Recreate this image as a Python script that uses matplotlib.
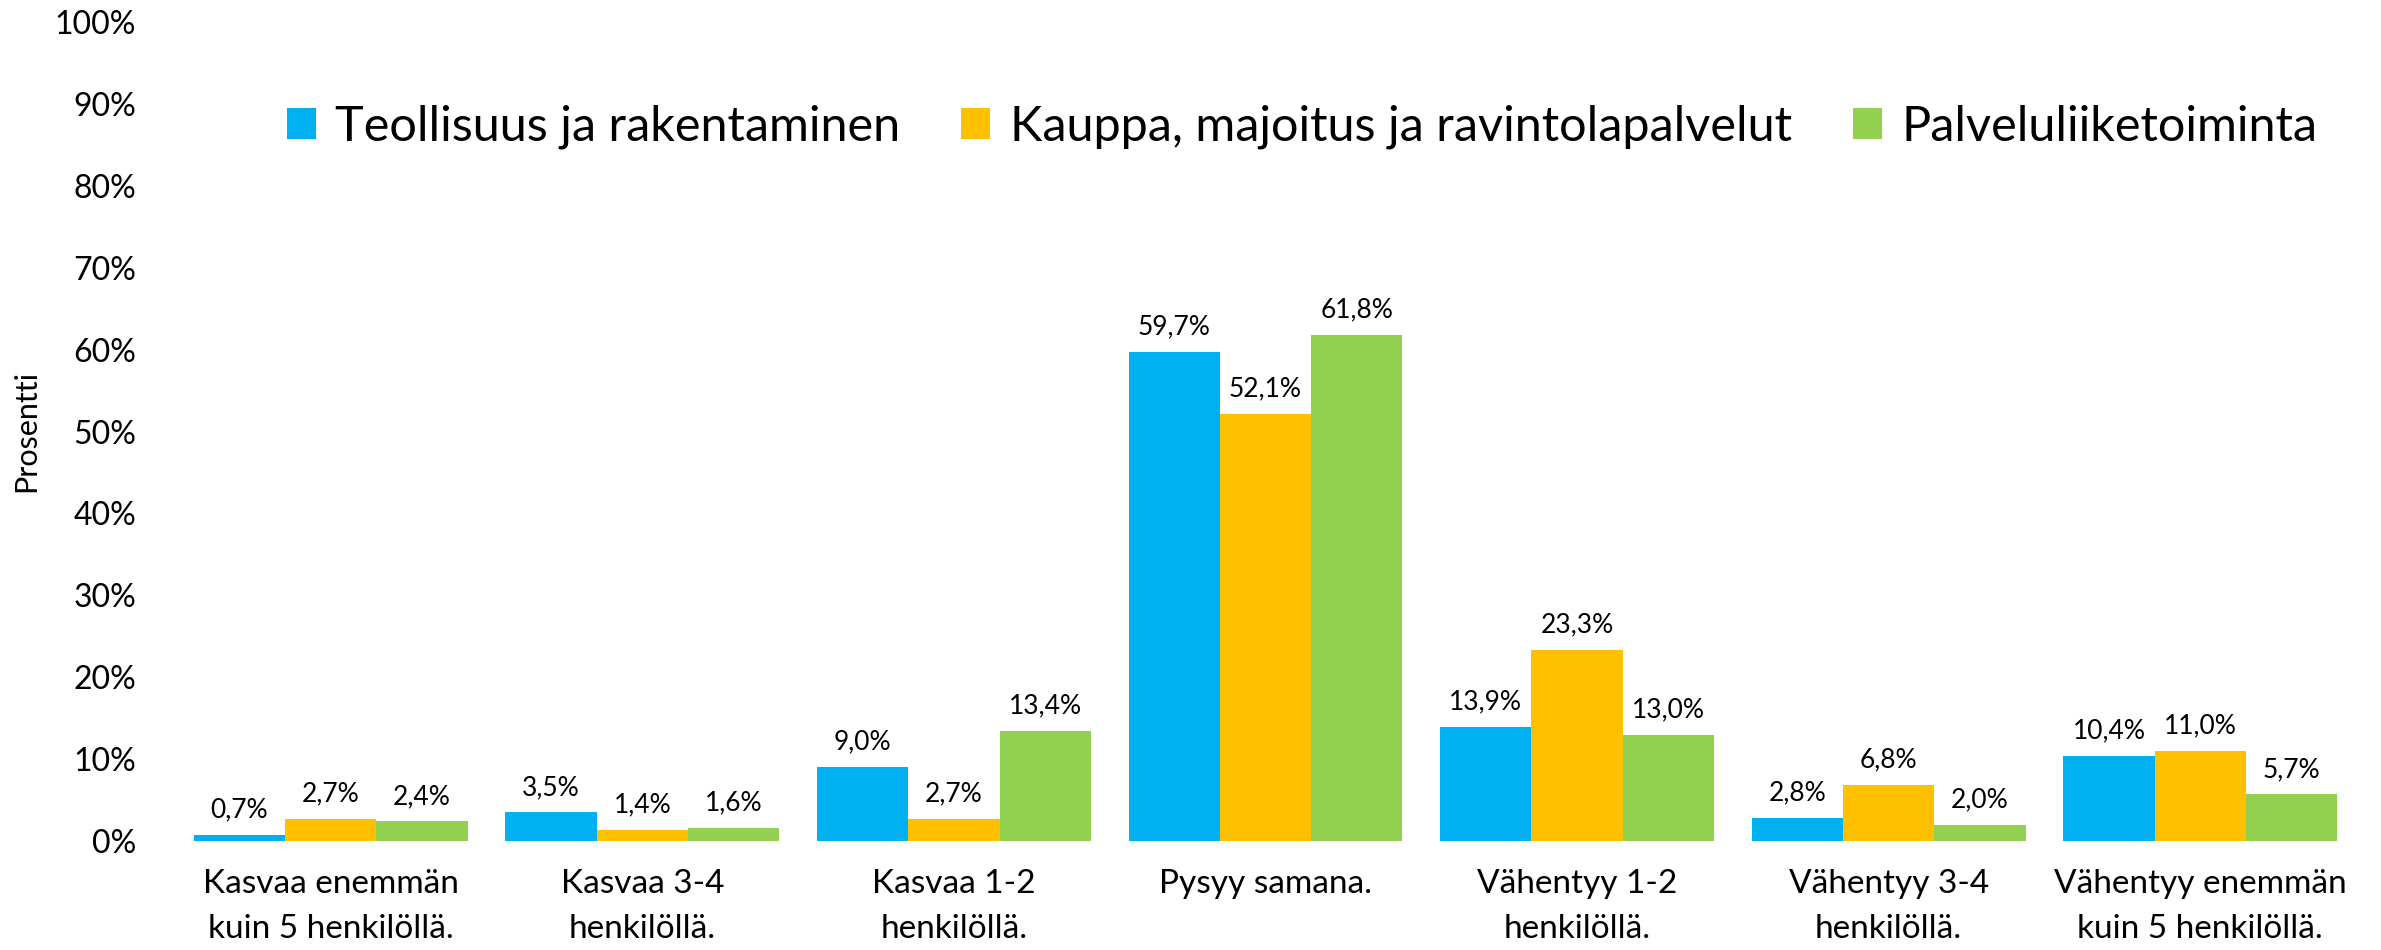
import matplotlib
matplotlib.use("Agg")
import matplotlib.pyplot as plt
import numpy as np
from matplotlib.patches import Patch

plt.rcParams['font.family'] = ['Lato', 'DejaVu Sans']

categories = ["Kasvaa enemmän\nkuin 5 henkilöllä.", "Kasvaa 3-4\nhenkilöllä.", "Kasvaa 1-2\nhenkilöllä.",
              "Pysyy samana.", "Vähentyy 1-2\nhenkilöllä.", "Vähentyy 3-4\nhenkilöllä.",
              "Vähentyy enemmän\nkuin 5 henkilöllä."]
series_names = ["Teollisuus ja rakentaminen", "Kauppa, majoitus ja ravintolapalvelut", "Palveluliiketoiminta"]
teollisuus = [0.7, 3.5, 9.0, 59.7, 13.9, 2.8, 10.4]
kauppa = [2.7, 1.4, 2.7, 52.1, 23.3, 6.8, 11.0]
palvelu = [2.4, 1.6, 13.4, 61.8, 13.0, 2.0, 5.7]
colors = ["#00B0F0", "#FFC000", "#92D050"]
yticks = list(range(0, 101, 10))

fig = plt.figure(figsize=(23.81, 9.5), dpi=100)
ax = fig.add_axes([175/2381, 1-841/950, (2356-175)/2381, (841-22)/950])

x = np.arange(len(categories))
w = 0.293
for i, (vals, c) in enumerate(zip([teollisuus, kauppa, palvelu], colors)):
    pos = x + (i-1)*w
    ax.bar(pos, vals, width=w, color=c, edgecolor='none')
    for p, v in zip(pos, vals):
        ax.annotate(f"{v:.1f}%".replace('.', ','), (p, v), xytext=(0, 9), textcoords='offset points',
                    ha='center', va='bottom', fontsize=19)

ax.set_xlim(-0.5, len(categories)-0.5)
ax.set_ylim(0, 100)
ax.set_yticks(yticks)
ax.set_yticklabels([f"{t}%" for t in yticks], fontsize=23)
ax.set_xticks(x)
ax.set_xticklabels(categories, fontsize=24, linespacing=1.65)
ax.tick_params(axis='both', length=0)
ax.tick_params(axis='y', pad=28)
ax.tick_params(axis='x', pad=20)
for s in ax.spines.values():
    s.set_visible(False)
ax.set_ylabel("Prosentti", fontsize=22)
ax.yaxis.set_label_coords(-0.062, 0.50)

handles = [Patch(facecolor=c, edgecolor='none') for c in colors]
fig.legend(handles, series_names, loc='center', bbox_to_anchor=(1302/2381, 1-127/950), ncol=3,
           frameon=False, fontsize=35, handlelength=0.6, handleheight=0.6, handletextpad=0.4,
           columnspacing=1.25)

fig.savefig("out.png", dpi=100)
